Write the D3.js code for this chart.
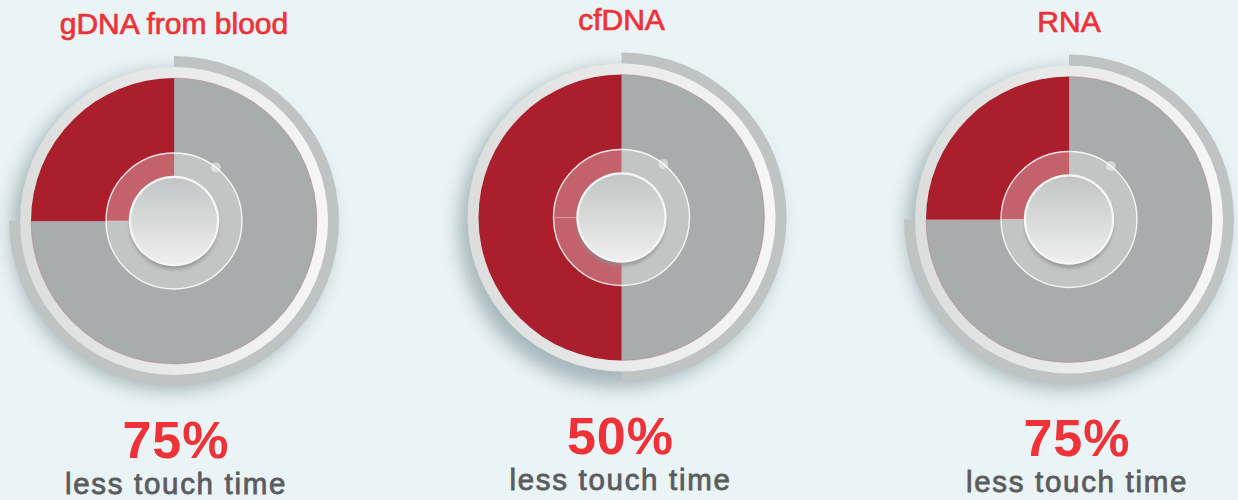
<!DOCTYPE html>
<html>
<head>
<meta charset="utf-8">
<script src="https://cdn.jsdelivr.net/npm/d3@7"></script>
<style>
  html, body { margin: 0; padding: 0; background: #eaf3f5; }
  svg { display: block; }
</style>
</head>
<body>
<svg id="chart" width="1238" height="500"></svg>
<script>
// ---- data ----
const categories = ["gDNA from blood", "cfDNA", "RNA"];
const reductionPct = [75, 50, 75];
const valueLabels = ["75%", "50%", "75%"];
const subLabels = ["less touch time", "less touch time", "less touch time"];

// ---- layout (small per-gauge nudges, not data) ----
const nudgeY = [1.5, -2, 0];
const labelNudgeX = [2, -1, 8];

const W = 1238, H = 500;
const svg = d3.select("#chart");

const x = d3.scalePoint().domain(categories).range([174, 1069]);
const angle = d3.scaleLinear().domain([0, 100]).range([0, 2 * Math.PI]);
const cy = 219.5;

const R_PIE = 143, R_WHITE_OUT = 154, R_ARC_IN = 150, R_ARC_OUT = 165;
const R_INNER = 68, R_BTN = 44;

const defs = svg.append("defs");
const shadow = defs.append("filter").attr("id", "gshadow")
  .attr("x", "-30%").attr("y", "-30%").attr("width", "160%").attr("height", "160%");
shadow.append("feGaussianBlur").attr("stdDeviation", 9);

const bshadow = defs.append("filter").attr("id", "bshadow")
  .attr("x", "-30%").attr("y", "-30%").attr("width", "160%").attr("height", "160%");
bshadow.append("feGaussianBlur").attr("stdDeviation", 2);

const ringGrad = defs.append("linearGradient").attr("id", "ringGrad")
  .attr("x1", "0").attr("y1", "0").attr("x2", "1").attr("y2", "0");
ringGrad.append("stop").attr("offset", "0").attr("stop-color", "#dcdddd");
ringGrad.append("stop").attr("offset", "1").attr("stop-color", "#f6f6f6");

const btnGrad = defs.append("linearGradient").attr("id", "btnGrad")
  .attr("x1", "0").attr("y1", "0").attr("x2", "0").attr("y2", "1");
btnGrad.append("stop").attr("offset", "0").attr("stop-color", "#c3c4c5");
btnGrad.append("stop").attr("offset", "1").attr("stop-color", "#efefef");

const pie = d3.pie().sort(null).value(d => d).startAngle(0).endAngle(2 * Math.PI);
const pieArc = d3.arc().innerRadius(0).outerRadius(R_PIE);

categories.forEach((cat, i) => {
  const cx = x(cat);
  const yy = cy + nudgeY[i];
  const g = svg.append("g").attr("transform", `translate(${cx},${yy})`);
  const v = reductionPct[i];

  // soft drop shadow
  g.append("circle").attr("cx", -3).attr("cy", 10).attr("r", 160)
    .attr("fill", "#6f878c").attr("opacity", 0.55).attr("filter", "url(#gshadow)");

  // outer grey arc showing the value
  g.append("path")
    .attr("d", d3.arc().innerRadius(R_ARC_IN).outerRadius(R_ARC_OUT)
      .startAngle(0).endAngle(angle(v))())
    .attr("fill", "#c0c3c4");

  // white ring
  g.append("circle").attr("r", R_WHITE_OUT).attr("fill", "url(#ringGrad)");

  // pie: grey = value, red = remainder
  const slices = pie([v, 100 - v]);
  g.selectAll("path.slice").data(slices).enter().append("path")
    .attr("class", "slice")
    .attr("d", pieArc)
    .attr("fill", (d, j) => j === 0 ? "#a9acad" : "#ab1f2d")
    .attr("stroke", (d, j) => j === 0 ? "rgba(171,31,45,0.35)" : "none")
    .attr("stroke-width", 0.6);

  // inner translucent ring
  g.append("circle").attr("r", R_INNER)
    .attr("fill", "rgba(255,255,255,0.3)")
    .attr("stroke", "rgba(255,255,255,0.85)").attr("stroke-width", 1.4);
  // faint division line at 9 o'clock
  g.append("line").attr("x1", -R_INNER).attr("y1", 0).attr("x2", -R_BTN).attr("y2", 0)
    .attr("stroke", "rgba(255,255,255,0.35)").attr("stroke-width", 1);

  // small dot on inner ring
  const a = 38 * Math.PI / 180;
  g.append("circle").attr("cx", R_INNER * Math.sin(a)).attr("cy", -R_INNER * Math.cos(a))
    .attr("r", 5).attr("fill", "rgba(255,255,255,0.45)");

  // button shadow
  g.append("circle").attr("cx", 0).attr("cy", 4).attr("r", R_BTN)
    .attr("fill", "#8d8f90").attr("opacity", 0.9).attr("filter", "url(#bshadow)");
  // button rim
  g.append("circle").attr("r", R_BTN + 1.2).attr("fill", "#f6f6f6");
  // button face
  g.append("circle").attr("r", R_BTN - 1).attr("fill", "url(#btnGrad)");
});

// ---- text ----
svg.selectAll("text.title").data(categories).enter().append("text")
  .attr("class", "title")
  .attr("x", d => x(d))
  .attr("y", (d, i) => 32 + nudgeY[i])
  .attr("text-anchor", "middle")
  .attr("font-family", "'Liberation Sans', Arial, sans-serif")
  .attr("font-size", 30)
  .attr("fill", "#ee3237")
  .attr("stroke", "#ee3237").attr("stroke-width", 0.7)
  .text(d => d);

svg.selectAll("text.value").data(valueLabels).enter().append("text")
  .attr("class", "value")
  .attr("x", (d, i) => x(categories[i]) + labelNudgeX[i])
  .attr("y", (d, i) => 456 + nudgeY[i])
  .attr("text-anchor", "middle")
  .attr("font-family", "'Liberation Sans', Arial, sans-serif")
  .attr("font-weight", "bold")
  .attr("font-size", 52)
  .attr("letter-spacing", 1)
  .attr("fill", "#ee3237")
  .text(d => d);

svg.selectAll("text.sub").data(subLabels).enter().append("text")
  .attr("class", "sub")
  .attr("x", (d, i) => x(categories[i]) + labelNudgeX[i])
  .attr("y", (d, i) => 492 + nudgeY[i])
  .attr("text-anchor", "middle")
  .attr("font-family", "'Liberation Sans', Arial, sans-serif")
  .attr("font-size", 29.5)
  .attr("letter-spacing", 1.7)
  .attr("fill", "#5b5c5e")
  .attr("stroke", "#5b5c5e").attr("stroke-width", 0.8)
  .text(d => d);
</script>
</body>
</html>
